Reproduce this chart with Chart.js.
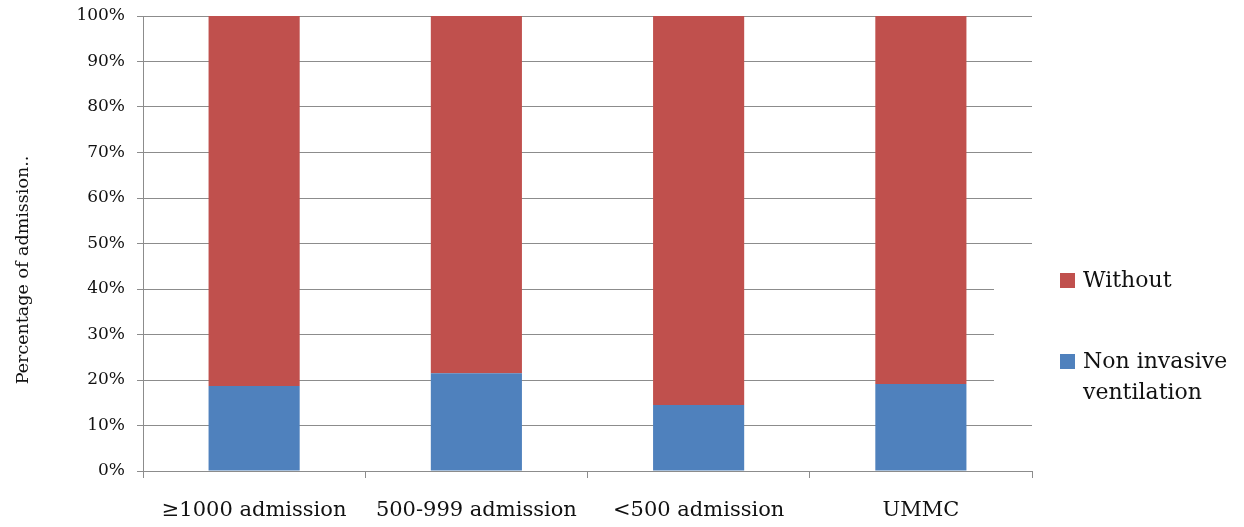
<!DOCTYPE html>
<html>
<head>
<meta charset="utf-8">
<script src="https://cdn.jsdelivr.net/npm/chart.js@4"></script>
<style>
html,body{margin:0;padding:0;background:#fff;}
#wrap{width:1244px;height:527px;position:relative;}
</style>
</head>
<body>
<div id="wrap"><canvas id="c" width="1244" height="527"></canvas></div>
<script>
const categories = ['≥1000 admission', '500-999 admission', '<500 admission', 'UMMC'];
const nonInvasive = [18.7, 21.5, 14.5, 19.1];
const without = [81.3, 78.5, 85.5, 80.9];
const yTicks = [0, 10, 20, 30, 40, 50, 60, 70, 80, 90, 100];
const seriesNames = ['Non invasive ventilation', 'Without'];
const legendLines = {'Non invasive ventilation': ['Non invasive', 'ventilation'], 'Without': ['Without']};
const yTitle = 'Percentage of admission..';

const FONT = "'DejaVu Serif', serif";
const GRID = '#8c8c8c';

const legendPlugin = {
  id: 'sideLegend',
  afterDraw(chart) {
    const ctx = chart.ctx;
    ctx.save();
    ctx.translate(23, 270);
    ctx.rotate(-Math.PI / 2);
    ctx.font = "17.5px " + FONT;
    ctx.fillStyle = '#111';
    ctx.textAlign = 'center';
    ctx.textBaseline = 'middle';
    ctx.fillText(yTitle, 0, 0);
    ctx.restore();

    ctx.save();
    ctx.fillStyle = '#ffffff';
    ctx.fillRect(994, 266, 250, 150);
    const items = [
      {ds: chart.data.datasets[1], y: 281},
      {ds: chart.data.datasets[0], y: 362}
    ];
    ctx.font = "22px " + FONT;
    ctx.textBaseline = 'middle';
    ctx.textAlign = 'left';
    items.forEach(it => {
      ctx.fillStyle = it.ds.backgroundColor;
      ctx.fillRect(1060, it.y - 8, 15, 15);
      ctx.fillStyle = '#111';
      const lines = legendLines[it.ds.label];
      lines.forEach((ln, i) => ctx.fillText(ln, 1083, it.y + i * 31));
    });
    ctx.restore();
  }
};

new Chart(document.getElementById('c'), {
  type: 'bar',
  data: {
    labels: categories,
    datasets: [
      {label: seriesNames[0], data: nonInvasive, backgroundColor: '#4F81BD', barPercentage: 0.41, categoryPercentage: 1.0},
      {label: seriesNames[1], data: without, backgroundColor: '#C0504D', barPercentage: 0.41, categoryPercentage: 1.0}
    ]
  },
  options: {
    responsive: false,
    animation: false,
    devicePixelRatio: 1,
    layout: {padding: {left: 0, right: 212, top: 16, bottom: 0}},
    plugins: {legend: {display: false}, tooltip: {enabled: false}},
    scales: {
      x: {
        stacked: true,
        offset: true,
        afterFit(s) { s.height = 56; s.paddingLeft = 0; s.paddingRight = 0; },
        grid: {offset: true, drawOnChartArea: false, drawTicks: true, tickLength: 7, color: GRID, lineWidth: 1},
        border: {display: true, color: GRID, width: 1},
        ticks: {color: '#111', font: {family: FONT, size: 21}, padding: 20, maxRotation: 0, autoSkip: false}
      },
      y: {
        stacked: true,
        min: 0, max: 100,
        afterFit(s) { s.width = 143; s.paddingTop = 0; s.paddingBottom = 0; },
        afterBuildTicks(s) { s.ticks = yTicks.map(v => ({value: v})); },
        grid: {color: GRID, lineWidth: 1, drawTicks: true, tickLength: 6},
        border: {display: true, color: GRID, width: 1},
        ticks: {color: '#111', font: {family: FONT, size: 17}, padding: 12, callback: v => v + '%'},
        title: {display: false}
      }
    }
  },
  plugins: [legendPlugin]
});
</script>
</body>
</html>
